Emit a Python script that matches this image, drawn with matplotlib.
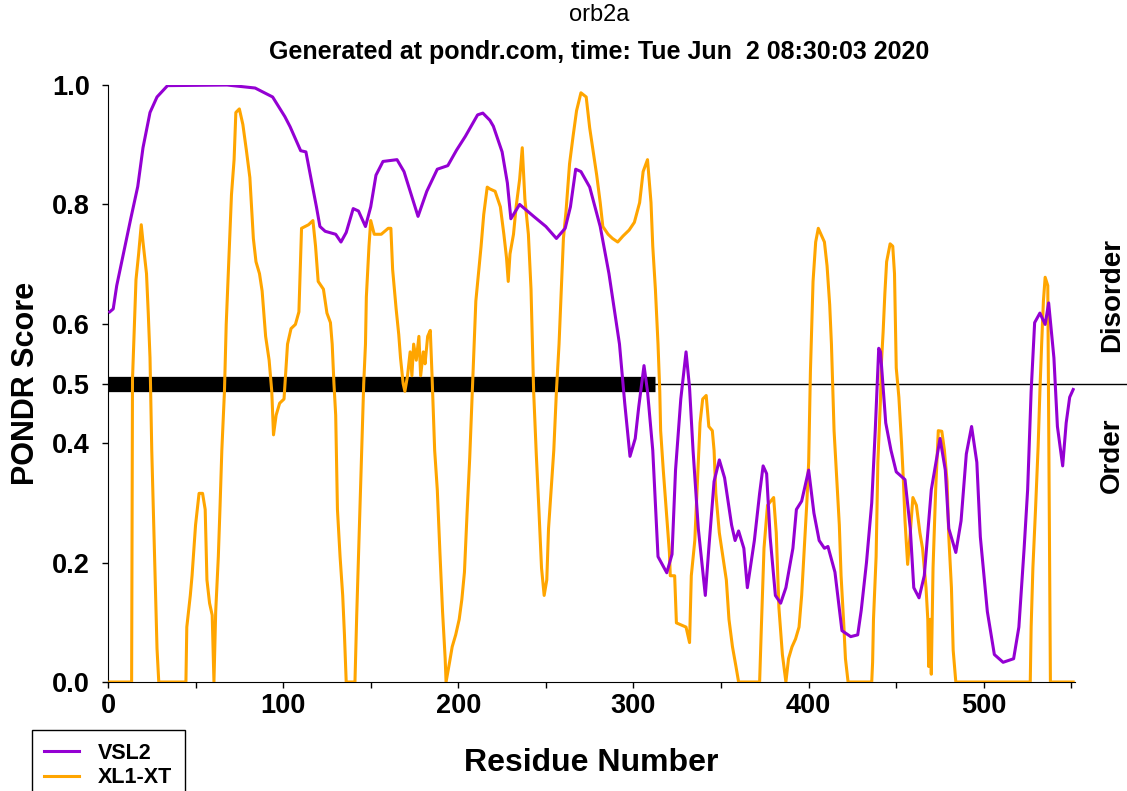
import matplotlib
matplotlib.use("Agg")
import matplotlib.pyplot as plt
from matplotlib.ticker import MultipleLocator

plt.rcParams['font.family'] = ['Liberation Sans', 'DejaVu Sans']

protein = "orb2a"
stamp = "Generated at pondr.com, time: Tue Jun  2 08:30:03 2020"
seq_len = 551
threshold = 0.5
disorder_regions = [(1, 312)]

# VSL2 predictor (residue, score)
vsl2_res = [1, 3, 5, 9, 13, 17, 20, 24, 28, 34, 68, 84, 94, 101, 104, 110, 113, 116, 119, 121,
            124, 130, 133, 136, 140, 143, 147, 150, 153, 157, 165, 169, 177, 182, 188, 194, 199, 204,
            211, 214, 218, 220, 225, 228, 230, 235, 243, 250, 256, 261, 264, 267, 270, 275, 281, 286,
            292, 295, 298, 301, 303, 306, 308, 311, 314, 319, 322, 324, 327, 330, 332, 334, 337, 341,
            343, 346, 349, 352, 356, 358, 360, 363, 365, 369, 372, 374, 376, 378, 381, 384, 387, 391,
            393, 396, 400, 403, 406, 409, 411, 415, 419, 424, 428, 430, 433, 436, 438, 440, 441, 444,
            447, 450, 455, 458, 460, 463, 466, 470, 475, 478, 480, 484, 487, 490, 493, 496, 498, 502,
            506, 511, 517, 520, 523, 525, 527, 529, 532, 535, 537, 540, 542, 545, 547, 549, 551]
vsl2_score = [0.62, 0.625, 0.664, 0.72, 0.776, 0.83, 0.895, 0.954, 0.98, 0.999, 1.0, 0.995, 0.98,
              0.947, 0.93, 0.89, 0.888, 0.842, 0.796, 0.763, 0.755, 0.75, 0.737, 0.753, 0.793, 0.789,
              0.763, 0.796, 0.849, 0.872, 0.875, 0.855, 0.78, 0.822, 0.859, 0.865, 0.891, 0.914, 0.95,
              0.953, 0.941, 0.931, 0.888, 0.836, 0.776, 0.8, 0.78, 0.763, 0.743, 0.76, 0.796, 0.859,
              0.855, 0.829, 0.763, 0.684, 0.566, 0.467, 0.378, 0.408, 0.461, 0.53, 0.487, 0.388, 0.21,
              0.183, 0.214, 0.355, 0.474, 0.553, 0.493, 0.388, 0.257, 0.145, 0.224, 0.336, 0.372,
              0.342, 0.263, 0.237, 0.253, 0.224, 0.158, 0.237, 0.316, 0.362, 0.349, 0.243, 0.145,
              0.132, 0.158, 0.224, 0.289, 0.303, 0.355, 0.283, 0.237, 0.224, 0.227, 0.184, 0.086,
              0.076, 0.079, 0.12, 0.2, 0.3, 0.421, 0.559, 0.553, 0.434, 0.388, 0.352, 0.339, 0.257,
              0.158, 0.141, 0.178, 0.322, 0.408, 0.355, 0.257, 0.217, 0.27, 0.382, 0.428, 0.368, 0.243,
              0.118, 0.046, 0.033, 0.039, 0.092, 0.224, 0.322, 0.487, 0.602, 0.618, 0.599, 0.635,
              0.543, 0.428, 0.362, 0.434, 0.477, 0.49]

# XL1-XT predictor (residue, score)
xl1_res = [1, 13.5, 14, 15, 16, 17.5, 19, 20, 22, 23, 24, 25, 26, 27, 28, 29, 44.5, 45, 47, 48, 50,
           52, 54, 55.5, 56.5, 58, 59.5, 60.5, 61.5, 63, 64, 65, 66.5, 67.5, 69, 70.5, 72, 73, 75, 77,
           79, 81, 83, 84.5, 86.5, 88, 90, 92, 93.5, 94.5, 96, 98, 100.5, 102.5, 104.5, 107, 109,
           110.5, 114.5, 117, 118.5, 120, 123, 125, 127, 128, 129, 130, 131, 132.5, 134, 135, 136,
           141, 142, 143, 144, 145, 146, 147, 147.5, 149, 150, 152, 156, 160, 161.5, 162.5, 164.5,
           166, 167, 168.5, 169.5, 171, 172.5, 173.5, 174.5, 176, 177.5, 178.5, 180, 181, 182.5, 184,
           185, 186.5, 188, 189.5, 191, 192.5, 193, 195, 196.5, 198.5, 200.5, 202, 203.5, 205, 206.5,
           208, 209, 210, 211.5, 213, 214.5, 216.5, 218, 221, 224, 226, 227.5, 228.5, 229.5, 231.5,
           233, 235, 236.5, 238, 240, 241.5, 243, 244.5, 246, 247.5, 249, 250.5, 251.5, 253, 254.5,
           256, 257.5, 259, 260, 261.5, 263.5, 265.5, 267.5, 270, 273, 275, 277, 279, 281, 282.5,
           285.5, 288, 291, 294, 297.5, 300.5, 303.5, 305.5, 308, 310, 311, 312.5, 314, 315, 315.5,
           317, 318.5, 320.5, 321, 323.5, 324.5, 330, 332, 333, 335, 337, 338, 339.5, 341.5, 343,
           345, 346, 347, 349, 351, 353, 354.5, 356.5, 358.5, 360, 372, 373, 374.5, 376.5, 380,
           381.5, 383, 385, 387, 388.5, 390.5, 392.5, 394.5, 396, 397.5, 399, 400, 401, 402.5, 404,
           405.5, 407, 409, 410.5, 412, 413, 414.5, 416, 417.5, 418.5, 420, 421, 422.5, 436, 436.5,
           437, 438.5, 439.5, 441, 441.5, 442.5, 443.5, 444.5, 446.5, 448, 449, 450, 451.5, 453, 454,
           455, 456.5, 458, 459.5, 461.5, 463.5, 465, 467, 468, 468.5, 469.5, 470, 471, 472.5, 474,
           476, 477.5, 479, 480, 481.5, 482.5, 484, 526.5, 527, 528, 529.5, 531, 532, 533, 534, 535,
           536.5, 537.3, 538, 551]
xl1_score = [0, 0, 0.507, 0.592, 0.674, 0.717, 0.766, 0.737, 0.684, 0.618, 0.543, 0.388, 0.276,
             0.164, 0.056, 0, 0, 0.092, 0.145, 0.178, 0.263, 0.316, 0.316, 0.289, 0.171, 0.132, 0.112,
             0, 0.118, 0.21, 0.296, 0.388, 0.487, 0.599, 0.707, 0.816, 0.875, 0.954, 0.96, 0.934,
             0.891, 0.845, 0.743, 0.704, 0.684, 0.655, 0.579, 0.539, 0.487, 0.414, 0.447, 0.467,
             0.474, 0.566, 0.592, 0.599, 0.62, 0.76, 0.766, 0.773, 0.73, 0.671, 0.658, 0.618, 0.602,
             0.566, 0.5, 0.447, 0.289, 0.21, 0.145, 0.079, 0, 0, 0.112, 0.21, 0.309, 0.401, 0.5, 0.566,
             0.645, 0.73, 0.773, 0.75, 0.75, 0.76, 0.76, 0.691, 0.625, 0.582, 0.543, 0.5, 0.487, 0.513,
             0.553, 0.513, 0.566, 0.539, 0.579, 0.513, 0.553, 0.533, 0.579, 0.589, 0.513, 0.388,
             0.322, 0.217, 0.118, 0.039, 0, 0.033, 0.059, 0.079, 0.105, 0.138, 0.184, 0.283, 0.375,
             0.487, 0.566, 0.638, 0.684, 0.73, 0.783, 0.829, 0.826, 0.822, 0.796, 0.75, 0.711, 0.671,
             0.717, 0.75, 0.796, 0.842, 0.895, 0.809, 0.75, 0.658, 0.487, 0.382, 0.289, 0.191, 0.145,
             0.171, 0.257, 0.322, 0.388, 0.487, 0.566, 0.671, 0.743, 0.789, 0.868, 0.914, 0.957,
             0.987, 0.98, 0.928, 0.888, 0.849, 0.803, 0.763, 0.75, 0.743, 0.737, 0.747, 0.757, 0.77,
             0.803, 0.855, 0.875, 0.803, 0.73, 0.658, 0.566, 0.487, 0.421, 0.355, 0.296, 0.217,
             0.178, 0.178, 0.099, 0.092, 0.066, 0.178, 0.237, 0.368, 0.434, 0.474, 0.48, 0.428,
             0.421, 0.388, 0.316, 0.25, 0.21, 0.171, 0.105, 0.059, 0.026, 0, 0, 0.092, 0.224, 0.296,
             0.309, 0.25, 0.125, 0.046, 0, 0.039, 0.059, 0.072, 0.092, 0.145, 0.224, 0.303, 0.368,
             0.52, 0.671, 0.737, 0.76, 0.75, 0.737, 0.697, 0.632, 0.566, 0.421, 0.342, 0.263, 0.178,
             0.099, 0.039, 0, 0, 0.033, 0.105, 0.21, 0.368, 0.474, 0.533, 0.586, 0.651, 0.704, 0.734,
             0.73, 0.684, 0.526, 0.477, 0.401, 0.342, 0.27, 0.197, 0.25, 0.309, 0.296, 0.25, 0.224,
             0.158, 0.105, 0.026, 0.105, 0.013, 0.191, 0.322, 0.421, 0.42, 0.388, 0.336, 0.243,
             0.158, 0.053, 0, 0, 0.092, 0.191, 0.289, 0.395, 0.487, 0.566, 0.638, 0.678, 0.664, 0.296,
             0, 0]

fig = plt.figure(figsize=(11.27, 7.91), dpi=100)
ax = fig.add_axes([0.0958, 0.1378, 0.858, 0.7547])

ax.plot(vsl2_res, vsl2_score, color='#9400D3', lw=2.2, label='VSL2', zorder=4)
ax.plot(xl1_res, xl1_score, color='#FFA500', lw=2.2, label='XL1-XT', zorder=3)

# threshold line runs out to the right edge, disordered stretches as a thick bar
ax.axhline(threshold, xmin=0, xmax=1.055, color='black', lw=1.0, clip_on=False, zorder=2)
for start, end in disorder_regions:
    ax.plot([start - 1, end], [threshold, threshold], color='black', lw=11,
            solid_capstyle='butt', zorder=2)

ax.set_xlim(0, seq_len + 1)
ax.set_ylim(0, 1)
ax.spines['top'].set_visible(False)
ax.spines['right'].set_visible(False)
ax.set_yticks([0.0, 0.2, 0.4, 0.5, 0.6, 0.8, 1.0])
ax.set_yticklabels(['0.0', '0.2', '0.4', '0.5', '0.6', '0.8', '1.0'])
ax.xaxis.set_major_locator(MultipleLocator(100))
ax.xaxis.set_minor_locator(MultipleLocator(50))
ax.tick_params(which='both', direction='out', length=4, width=1, labelsize=19.5)
ax.tick_params(axis='x', pad=4)
ax.tick_params(axis='y', pad=9)
for lbl in ax.get_xticklabels() + ax.get_yticklabels():
    lbl.set_fontweight('bold')

ax.set_xlabel('Residue Number', fontsize=23, fontweight='bold', labelpad=21)
ax.set_ylabel('PONDR Score', fontsize=22, fontweight='bold', labelpad=8)

fig.text(0.5315, 0.981, protein, ha='center', va='center', fontsize=17)
fig.text(0.5315, 0.934, stamp, ha='center', va='center', fontsize=18, fontweight='bold')

fig.text(0.987, 0.627, 'Disorder', rotation=90, ha='center', va='center', fontsize=20,
         fontweight='bold')
fig.text(0.987, 0.425, 'Order', rotation=90, ha='center', va='center', fontsize=20,
         fontweight='bold')

leg = fig.legend(loc='upper left', bbox_to_anchor=(0.028, 0.077),
                 prop={'weight': 'bold', 'size': 15.5}, frameon=True, fancybox=False,
                 edgecolor='black', framealpha=1, borderpad=0.6, handlelength=1.6,
                 handletextpad=0.9, labelspacing=0.15, borderaxespad=0)
leg.get_frame().set_linewidth(1.0)

fig.savefig('out.png', dpi=100)
